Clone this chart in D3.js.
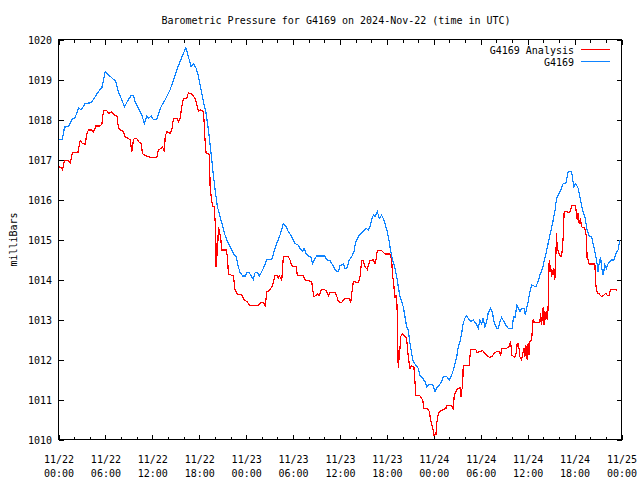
<!DOCTYPE html>
<html>
<head>
<meta charset="utf-8">
<script src="https://cdn.jsdelivr.net/npm/d3@7"></script>
<style>
  html, body { margin: 0; padding: 0; background: #fff; }
  svg { display: block; }
  text { font-family: "DejaVu Sans Mono", "Liberation Mono", monospace; font-size: 10px; fill: #000; }
</style>
</head>
<body>
<svg id="chart" width="640" height="480"></svg>
<script>
// ---- Data (hours since 2024-11-22 00:00 UTC, pressure in mbar) ----
const chartTitle = "Barometric Pressure for G4169 on 2024-Nov-22 (time in UTC)";
const yLabel = "milliBars";
const seriesNames = ["G4169 Analysis", "G4169"];
const seriesColors = ["#ff0000", "#0f84ff"];
const startDate = "2024-11-22T00:00:00Z";
const endDate = "2024-11-25T00:00:00Z";
const yTickValues = [1010, 1011, 1012, 1013, 1014, 1015, 1016, 1017, 1018, 1019, 1020];

const analysisHours = [0,0.35,0.51,0.77,1.28,1.5,1.79,2.48,2.77,3.07,3.41,3.63,3.83,4.26,4.47,4.78,5.33,5.55,5.75,6.18,6.39,6.73,7.16,7.46,7.67,7.88,8.31,8.52,8.87,9.16,9.38,9.58,9.71,10.02,10.22,10.57,10.74,10.99,11.5,11.94,12.57,12.78,13.12,13.29,13.55,13.64,13.85,14.27,14.49,14.7,15.13,15.34,15.55,15.77,15.97,16.41,16.61,17.05,17.47,17.69,17.89,18.2,18.5,18.62,18.75,18.88,19.3,19.39,19.6,19.73,19.9,20.03,20.07,20.15,20.24,20.32,20.45,20.58,20.75,20.88,21.43,21.6,21.73,22.36,22.58,22.88,23.44,23.73,24.08,24.5,24.92,25.56,25.87,26.2,26.45,26.63,26.97,27.4,27.69,27.91,28.12,28.25,28.55,28.76,29.39,29.61,29.83,30.38,30.54,31.31,31.53,32.38,32.51,32.68,32.93,33.1,33.36,33.53,33.66,34.08,34.3,34.51,34.72,35.36,35.58,35.78,36.22,36.42,36.64,37.19,37.37,37.5,37.71,38.34,38.56,38.77,38.98,39.2,39.49,39.62,39.83,40.26,40.47,40.6,40.77,41.32,41.75,42.39,42.6,42.73,42.9,43.03,43.16,43.25,43.33,43.41,43.45,43.54,43.58,43.76,44.01,44.31,44.52,44.73,44.95,45.16,45.45,45.71,46.22,46.57,46.74,47.16,47.42,47.59,47.85,48.01,48.27,48.36,48.56,48.78,49.2,49.55,49.64,50.28,50.49,50.61,50.91,51.34,51.46,51.55,51.68,51.76,52.53,52.7,53.04,53.38,53.55,53.81,54.24,54.53,54.82,55.17,55.52,55.68,56.03,56.36,56.54,56.67,57.3,57.64,57.81,57.98,58.36,58.58,58.66,58.83,59.0,59.22,59.35,59.52,59.64,59.77,59.94,60.06,60.18,60.28,60.5,60.7,60.92,61.56,61.65,61.78,61.9,61.99,62.08,62.2,62.33,62.42,62.54,62.62,62.75,62.84,62.93,63.05,63.18,63.26,63.35,63.48,63.6,63.69,63.77,63.9,64.11,64.33,64.46,64.54,64.67,65.3,65.48,65.61,66.03,66.16,66.33,66.45,66.58,66.76,66.88,67.31,67.52,67.6,67.73,67.86,68.59,68.72,68.89,69.14,69.44,69.74,69.99,70.16,70.42,70.6,71.03,71.28,71.45];
const analysisValues = [1016.82,1016.8,1016.74,1016.97,1016.97,1016.92,1017.17,1017.17,1017.47,1017.4,1017.38,1017.64,1017.74,1017.74,1017.68,1017.84,1017.84,1017.89,1018.22,1018.22,1018.15,1018.19,1018.11,1018.11,1017.78,1017.74,1017.7,1017.57,1017.53,1017.49,1017.2,1017.49,1017.53,1017.52,1017.45,1017.4,1017.15,1017.11,1017.07,1017.05,1017.05,1017.24,1017.28,1017.32,1017.2,1017.57,1017.7,1017.65,1017.74,1018.03,1018.03,1017.95,1018.03,1018.32,1018.53,1018.53,1018.67,1018.63,1018.53,1018.36,1018.2,1018.24,1018.2,1017.95,1017.45,1017.15,1017.13,1016.32,1015.95,1015.82,1015.82,1015.45,1014.7,1014.32,1014.9,1014.59,1015.32,1015.2,1015.03,1014.74,1014.74,1014.57,1014.14,1014.09,1013.74,1013.64,1013.61,1013.49,1013.45,1013.34,1013.36,1013.36,1013.42,1013.42,1013.34,1013.7,1013.72,1013.86,1014.11,1014.11,1014.03,1014.09,1013.99,1014.57,1014.57,1014.49,1014.34,1014.32,1014.11,1014.09,1013.99,1013.95,1013.74,1013.57,1013.6,1013.65,1013.6,1013.7,1013.75,1013.74,1013.7,1013.59,1013.67,1013.67,1013.59,1013.45,1013.42,1013.49,1013.53,1013.53,1013.42,1013.65,1013.95,1013.92,1014.07,1014.47,1014.47,1014.32,1014.25,1014.36,1014.47,1014.49,1014.4,1014.5,1014.72,1014.72,1014.64,1014.64,1014.49,1014.11,1013.82,1013.53,1013.61,1013.57,1013.07,1012.07,1011.78,1012.24,1011.99,1012.57,1012.65,1012.57,1012.53,1012.07,1011.78,1011.84,1011.82,1011.11,1011.09,1010.99,1010.78,1010.78,1010.7,1010.49,1010.3,1010.11,1010.12,1010.4,1010.64,1010.7,1010.75,1010.78,1010.86,1010.86,1010.74,1011.11,1011.24,1011.3,1011.07,1011.24,1011.3,1011.86,1011.86,1012.24,1012.25,1012.24,1012.17,1012.2,1012.22,1012.15,1012.09,1012.05,1012.09,1012.15,1012.2,1012.2,1012.09,1012.28,1012.28,1012.32,1012.45,1012.11,1012.05,1012.2,1012.4,1012.4,1012.07,1011.99,1012.11,1012.28,1012.07,1012.36,1011.99,1012.4,1012.11,1012.45,1012.49,1013.0,1012.92,1012.92,1013.17,1012.86,1013.17,1013.32,1012.86,1013.2,1012.99,1013.2,1013.0,1013.36,1014.49,1014.2,1014.36,1014.07,1014.24,1014.11,1014.28,1014.0,1014.57,1015.17,1014.82,1014.7,1014.61,1014.57,1014.82,1015.07,1015.7,1015.68,1015.7,1015.86,1015.86,1015.78,1015.49,1015.65,1015.4,1015.53,1015.32,1015.28,1015.07,1014.53,1014.49,1014.39,1014.39,1013.86,1013.67,1013.64,1013.57,1013.61,1013.65,1013.61,1013.6,1013.75,1013.76,1013.76,1013.72];

const stationHours = [0,0.5,0.77,1.28,1.71,2.13,2.56,2.9,3.41,4.18,4.69,5.11,5.55,5.97,6.39,7.03,7.3,7.67,8.1,8.43,8.86,9.29,9.59,9.8,10.22,10.65,10.99,11.29,11.55,11.84,12.14,12.57,13.12,13.64,14.27,14.7,15.13,15.55,15.97,16.28,16.61,16.96,17.25,17.56,17.81,18.2,18.53,18.88,19.17,19.47,19.73,20.03,20.32,20.66,21.01,21.3,21.6,21.94,22.36,22.71,23.0,23.22,23.56,23.9,24.08,24.41,24.63,24.92,25.14,25.43,25.69,26.0,26.29,26.63,27.27,27.57,27.91,28.33,28.76,29.1,29.39,29.83,30.25,30.67,30.98,31.23,31.4,31.66,31.95,32.25,32.51,32.8,33.02,34.08,34.3,34.72,35.07,35.36,35.58,35.78,36.0,36.42,36.64,36.86,37.19,37.5,37.79,37.92,38.13,38.34,38.65,38.98,39.32,39.62,39.83,40.05,40.26,40.47,40.77,41.02,41.32,41.62,41.87,42.04,42.3,42.48,42.74,43.03,43.25,43.45,43.67,43.88,44.09,44.31,44.52,44.73,44.95,45.16,45.37,45.71,46.01,46.22,46.57,46.86,47.08,47.41,47.85,48.14,48.36,48.69,49.0,49.2,49.64,49.97,50.28,50.57,50.91,51.12,51.34,51.55,51.76,51.97,52.19,52.4,52.7,53.04,53.38,53.68,53.89,54.11,54.31,54.53,54.75,54.95,55.26,55.51,55.68,56.03,56.23,56.45,56.67,56.96,57.21,57.51,58.0,58.2,58.4,58.6,58.85,59.0,59.25,59.52,59.7,59.9,60.06,60.28,60.5,61.05,61.34,61.56,61.9,62.2,62.49,62.84,63.18,63.48,63.69,64.03,64.33,64.54,64.88,65.18,65.61,65.9,66.16,66.45,66.67,67.02,67.31,67.6,67.86,68.17,68.46,68.8,69.01,69.14,69.32,69.44,69.65,69.87,70.08,70.3,70.73,71.03,71.28,71.57,71.79];
const stationValues = [1017.51,1017.51,1017.81,1017.82,1018.0,1018.05,1018.29,1018.24,1018.4,1018.42,1018.57,1018.7,1018.8,1019.2,1019.12,1019.0,1018.97,1018.69,1018.49,1018.32,1018.47,1018.6,1018.6,1018.45,1018.28,1018.11,1017.9,1018.09,1018.03,1018.09,1018.0,1018.0,1018.32,1018.49,1018.74,1018.99,1019.24,1019.45,1019.65,1019.8,1019.57,1019.32,1019.4,1019.3,1019.15,1018.78,1018.45,1018.15,1017.74,1017.24,1016.74,1016.24,1015.82,1015.57,1015.32,1015.11,1014.95,1014.82,1014.65,1014.57,1014.32,1014.17,1014.09,1014.09,1014.17,1014.17,1014.09,1014.0,1014.17,1014.17,1014.09,1014.2,1014.32,1014.49,1014.5,1014.7,1014.9,1015.11,1015.4,1015.32,1015.2,1015.07,1014.9,1014.86,1014.75,1014.7,1014.78,1014.65,1014.59,1014.57,1014.4,1014.53,1014.59,1014.59,1014.49,1014.47,1014.36,1014.25,1014.2,1014.2,1014.34,1014.39,1014.28,1014.28,1014.49,1014.57,1014.7,1014.86,1014.99,1015.07,1015.15,1015.2,1015.28,1015.24,1015.32,1015.49,1015.61,1015.57,1015.7,1015.53,1015.61,1015.49,1015.32,1015.2,1014.95,1014.7,1014.49,1014.28,1014.07,1013.82,1013.57,1013.45,1013.32,1013.07,1012.82,1012.74,1012.4,1012.15,1011.95,1011.86,1011.78,1011.61,1011.53,1011.45,1011.32,1011.38,1011.38,1011.2,1011.28,1011.36,1011.45,1011.57,1011.57,1011.49,1011.61,1011.78,1012.05,1012.3,1012.45,1012.65,1012.9,1013.03,1013.09,1013.03,1012.95,1012.99,1012.9,1012.78,1012.99,1012.9,1013.03,1012.82,1012.95,1013.16,1013.28,1013.16,1012.95,1012.78,1012.78,1012.95,1013.05,1012.95,1012.86,1012.78,1012.78,1013.07,1013.05,1013.36,1013.28,1013.2,1013.28,1013.28,1013.11,1013.32,1013.45,1013.68,1013.86,1013.82,1013.95,1014.11,1014.28,1014.53,1014.78,1015.11,1015.4,1015.7,1016.03,1016.15,1016.28,1016.4,1016.4,1016.7,1016.7,1016.32,1016.4,1016.28,1016.07,1015.74,1015.57,1015.24,1015.09,1015.07,1014.82,1014.49,1014.2,1014.4,1014.57,1014.32,1014.11,1014.36,1014.28,1014.4,1014.49,1014.49,1014.65,1014.74,1014.99];

// ---- Layout ----
const svg = d3.select("#chart");
const L = 58.5, R = 621.5, T = 39.5, B = 439.5;

const t0 = new Date(startDate), t1 = new Date(endDate);
const x = d3.scaleUtc().domain([t0, t1]).range([L, R]);
const y = d3.scaleLinear().domain([1010, 1020]).range([B, T]);
const toDate = h => new Date(t0.getTime() + h * 3600e3);

const majorTimes = d3.utcHour.every(6).range(t0, d3.utcHour.offset(t1, 1));
const minorTimes = d3.utcHour.every(2).range(t0, d3.utcHour.offset(t1, 1)).filter(d => d.getUTCHours() % 6 !== 0);

const MAJ = 5, MIN = 3;
function styleAxis(g) {
  g.select(".domain").remove();
  g.attr("font-family", null).attr("font-size", null);
  g.selectAll(".tick line").attr("stroke", "#000").attr("shape-rendering", "crispEdges");
}

// minor ticks
svg.append("g").attr("transform", `translate(0,${B})`)
  .call(d3.axisBottom(x).tickValues(minorTimes).tickSizeInner(-MIN).tickSizeOuter(0).tickFormat(""))
  .call(styleAxis);
svg.append("g").attr("transform", `translate(0,${T})`)
  .call(d3.axisTop(x).tickValues(minorTimes).tickSizeInner(-MIN).tickSizeOuter(0).tickFormat(""))
  .call(styleAxis);

// major x ticks
const fmtDay = d3.utcFormat("%m/%d"), fmtTime = d3.utcFormat("%H:%M");
const gx = svg.append("g").attr("transform", `translate(0,${B})`)
  .call(d3.axisBottom(x).tickValues(majorTimes).tickSizeInner(-MAJ).tickSizeOuter(0).tickFormat(""))
  .call(styleAxis);
gx.selectAll(".tick text").remove();
gx.selectAll(".tick").each(function(d) {
  const t = d3.select(this).append("text").attr("text-anchor", "middle");
  t.append("tspan").attr("x", 0).attr("y", 23).text(fmtDay(d));
  t.append("tspan").attr("x", 0).attr("y", 37.5).text(fmtTime(d));
});
svg.append("g").attr("transform", `translate(0,${T})`)
  .call(d3.axisTop(x).tickValues(majorTimes).tickSizeInner(-MAJ).tickSizeOuter(0).tickFormat(""))
  .call(styleAxis);

// y ticks
const gy = svg.append("g").attr("transform", `translate(${L},0)`)
  .call(d3.axisLeft(y).tickValues(yTickValues).tickSizeInner(-MAJ).tickSizeOuter(0).tickPadding(6.5).tickFormat(d3.format("d")))
  .call(styleAxis);
gy.selectAll(".tick text").attr("dy", null).attr("y", 4).attr("fill", "#000");
svg.append("g").attr("transform", `translate(${R},0)`)
  .call(d3.axisRight(y).tickValues(yTickValues).tickSizeInner(-MAJ).tickSizeOuter(0).tickFormat(""))
  .call(styleAxis);

// border
svg.append("rect").attr("x", L).attr("y", T).attr("width", R - L).attr("height", B - T)
  .attr("fill", "none").attr("stroke", "#000").attr("shape-rendering", "crispEdges");

// series
const line = d3.line().x(d => x(d.t)).y(d => y(d.v));
const series = [
  { name: seriesNames[0], color: seriesColors[0], data: analysisHours.map((h, i) => ({ t: toDate(h), v: analysisValues[i] })) },
  { name: seriesNames[1], color: seriesColors[1], data: stationHours.map((h, i) => ({ t: toDate(h), v: stationValues[i] })) }
];
svg.append("g").selectAll("path").data(series).join("path")
  .attr("d", d => line(d.data))
  .attr("fill", "none").attr("stroke", d => d.color).attr("stroke-width", 1.2)
  .attr("shape-rendering", "crispEdges");

// legend
const legend = svg.append("g");
series.forEach((s, i) => {
  const ly = 49.5 + i * 12;
  legend.append("text").attr("x", 574).attr("y", ly + 4).attr("text-anchor", "end").text(s.name);
  legend.append("line").attr("x1", 581).attr("x2", 610).attr("y1", ly).attr("y2", ly)
    .attr("stroke", s.color).attr("stroke-width", 1).attr("shape-rendering", "crispEdges");
});

// title & y label
svg.append("text").attr("x", 336).attr("y", 24).attr("text-anchor", "middle").text(chartTitle);
svg.append("text").attr("transform", "translate(17,239.5) rotate(-90)").attr("text-anchor", "middle").text(yLabel);
</script>
</body>
</html>
